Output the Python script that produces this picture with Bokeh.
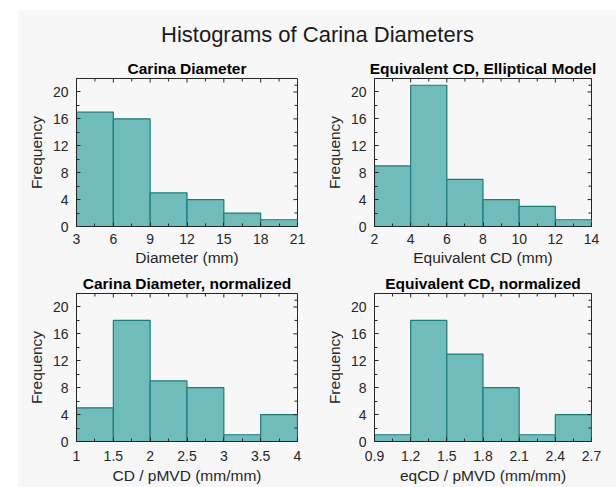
import math
from bokeh.plotting import figure
from bokeh.layouts import column, row, Spacer
from bokeh.models import FixedTicker, NumeralTickFormatter, Range1d
from bokeh.embed import file_html
from bokeh.resources import INLINE

# ---------------- data ----------------
main_title = "Histograms of Carina Diameters"

cd_edges = [3, 6, 9, 12, 15, 18, 21]
cd_counts = [17, 16, 5, 4, 2, 1]

eq_edges = [2, 4, 6, 8, 10, 12, 14]
eq_counts = [9, 21, 7, 4, 3, 1]

cdn_edges = [1, 1.5, 2, 2.5, 3, 3.5, 4]
cdn_counts = [5, 18, 9, 8, 1, 4]

eqn_edges = [0.9, 1.2, 1.5, 1.8, 2.1, 2.4, 2.7]
eqn_counts = [1, 18, 13, 8, 1, 4]

freq_ticks = [0, 4, 8, 12, 16, 20]
freq_max = 22

subtitles = ["Carina Diameter", "Equivalent CD, Elliptical Model",
             "Carina Diameter, normalized", "Equivalent CD, normalized"]
xlabels = ["Diameter (mm)", "Equivalent CD (mm)",
           "CD / pMVD (mm/mm)", "eqCD / pMVD (mm/mm)"]
ylabel = "Frequency"

# ---------------- style ----------------
BG = "#f7f7f7"
FILL = "#70bcbb"
EDGE = "#1e7b79"
AX = "#262626"
FONT = "Liberation Sans"


def mids(v):
    return [(a + b) / 2 for a, b in zip(v[:-1], v[1:])]


def style_axis(ax, ticks, label_standoff):
    ax.ticker = FixedTicker(ticks=ticks, minor_ticks=mids(ticks))
    ax.formatter = NumeralTickFormatter(format="0.[0]")
    ax.axis_line_color = AX
    ax.major_tick_line_color = AX
    ax.minor_tick_line_color = AX
    ax.major_tick_in = 4
    ax.major_tick_out = 0
    ax.minor_tick_in = 3
    ax.minor_tick_out = 0
    ax.major_label_text_font = FONT
    ax.major_label_text_color = AX
    ax.major_label_text_font_size = "14px"
    ax.major_label_standoff = label_standoff
    ax.axis_label_text_font = FONT
    ax.axis_label_text_font_size = "15.5px"
    ax.axis_label_text_font_style = "normal"
    ax.axis_label_text_color = AX


def hist_fig(edges, counts, title, xlabel, width, height, bl, br, bt, bb,
             xstand, xlab_stand):
    p = figure(width=width, height=height,
               x_range=Range1d(edges[0], edges[-1]),
               y_range=Range1d(0, freq_max),
               output_backend="svg", toolbar_location=None,
               min_border_left=bl, min_border_right=br,
               min_border_top=bt, min_border_bottom=bb,
               background_fill_color=BG, border_fill_color=BG,
               outline_line_color=AX, title=title)
    p.title.text_font = FONT
    p.title.text_font_size = "15.5px"
    p.title.text_font_style = "bold"
    p.title.text_color = "#000000"
    p.title.align = "center"
    p.title.standoff = 4
    p.grid.visible = False

    p.quad(left=edges[:-1], right=edges[1:], bottom=0, top=counts,
           fill_color=FILL, line_color=EDGE, line_width=1.2)

    style_axis(p.xaxis[0], edges, xstand)
    p.xaxis[0].axis_label = xlabel
    p.xaxis[0].axis_label_standoff = xlab_stand
    style_axis(p.yaxis[0], freq_ticks, 8)
    p.yaxis[0].axis_label = ylabel
    p.yaxis[0].axis_label_standoff = 5

    # mirrored inward ticks on the top and right edges of the box
    p.ray(x=edges, y=freq_max, length=4, length_units="screen",
          angle=-math.pi / 2, line_color=AX, line_width=1)
    p.ray(x=mids(edges), y=freq_max, length=3, length_units="screen",
          angle=-math.pi / 2, line_color=AX, line_width=1)
    p.ray(x=edges[-1], y=freq_ticks, length=4, length_units="screen",
          angle=math.pi, line_color=AX, line_width=1)
    p.ray(x=edges[-1], y=mids(freq_ticks + [freq_max]), length=3,
          length_units="screen", angle=math.pi, line_color=AX, line_width=1)
    return p


# ---------------- layout ----------------
head = figure(width=598, height=40, x_range=Range1d(0, 1), y_range=Range1d(0, 1),
              x_axis_type=None, y_axis_type=None,
              output_backend="svg", toolbar_location=None,
              min_border_left=0, min_border_right=0,
              min_border_top=36, min_border_bottom=2,
              background_fill_color=BG, border_fill_color=BG,
              outline_line_color=None, title=main_title)
head.title.text_font = FONT
head.title.text_font_size = "22px"
head.title.text_font_style = "normal"
head.title.text_color = "#1a1a1a"
head.title.align = "center"
head.title.offset = 4
head.title.standoff = 0

p1 = hist_fig(cd_edges, cd_counts, subtitles[0], xlabels[0], 304, 218, 58, 25, 28, 42, 7, 2)
p2 = hist_fig(eq_edges, eq_counts, subtitles[1], xlabels[1], 294, 218, 47, 25, 28, 42, 7, 2)
p3 = hist_fig(cdn_edges, cdn_counts, subtitles[2], xlabels[2], 304, 219, 58, 25, 25, 46, 9, 3)
p4 = hist_fig(eqn_edges, eqn_counts, subtitles[3], xlabels[3], 294, 219, 47, 25, 25, 46, 9, 3)

panel = column(head, row(p1, p2), row(p3, p4),
               styles={"background-color": BG})
layout = column(Spacer(width=10, height=10),
                row(Spacer(width=18, height=10), panel))

open("out.html", "w").write(file_html(layout, INLINE))
